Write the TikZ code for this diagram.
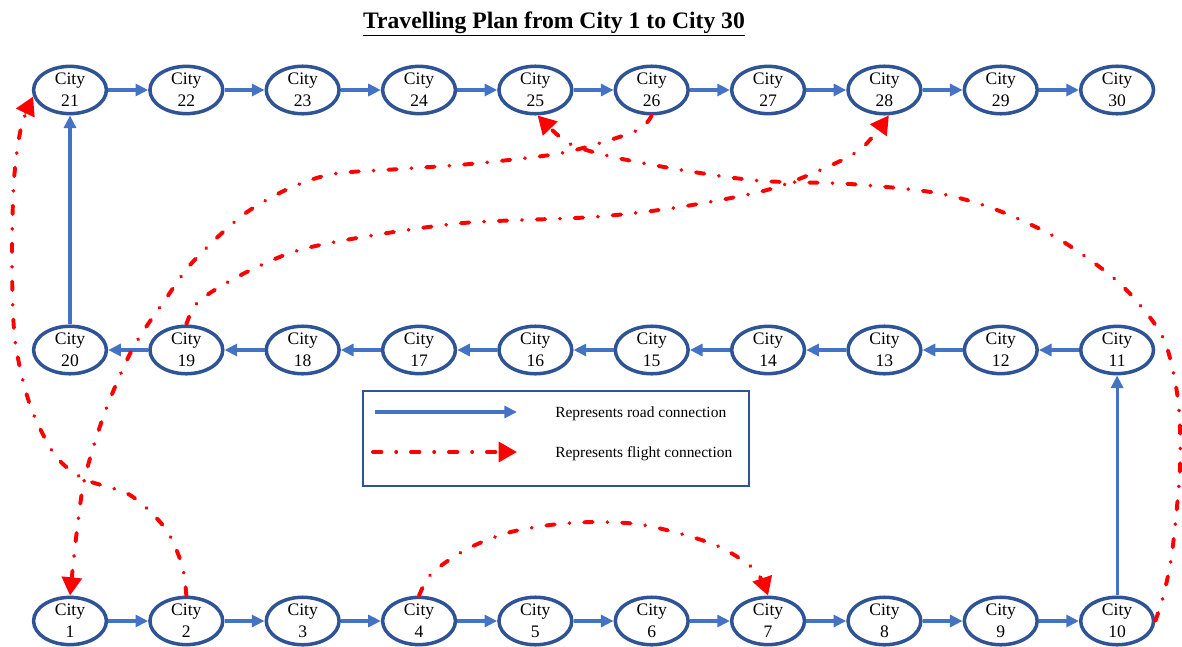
\documentclass[tikz,border=0pt]{standalone}
\usepackage{fontspec}
\setmainfont{Liberation Serif}
\usetikzlibrary{arrows.meta,positioning,shapes.geometric}
\definecolor{citynavy}{RGB}{47,84,150}
\definecolor{roadblue}{RGB}{68,114,196}
\definecolor{flightred}{RGB}{255,0,0}
\tikzset{
 city/.style={ellipse,draw=citynavy,line width=2.5pt,minimum width=1.82cm,minimum height=1.17cm,inner sep=0pt,align=center,font=\fontsize{12.5}{15.5}\selectfont},
 road/.style={-{Triangle[length=9pt,width=8.5pt]},line width=2.3pt,draw=roadblue},
 flight/.style={-{Triangle[length=13pt,width=14pt]},line width=2.8pt,draw=flightred,fill=none,line cap=round,dash pattern=on 6pt off 10.5pt on 0.01pt off 10.5pt},
 keybox/.style={rectangle,draw=citynavy,line width=1.6pt,minimum width=9.65cm,minimum height=2.37cm},
 keytext/.style={anchor=base west,inner sep=0pt,font=\fontsize{11}{13}\selectfont}}
\begin{document}
\begin{tikzpicture}[x=0.025cm,y=-0.025cm,node distance=1.0cm]
\useasboundingbox (0,0) rectangle (1182,646);
\node[font=\fontsize{16.8}{18}\selectfont\bfseries] (title) at (554,24) {\underline{Travelling Plan from City 1 to City 30}};
\node[city] (c1) at (70,621) {City\\1};
\node[city,right=of c1] (c2) {City\\2}; \node[city,right=of c2] (c3) {City\\3}; \node[city,right=of c3] (c4) {City\\4};
\node[city,right=of c4] (c5) {City\\5}; \node[city,right=of c5] (c6) {City\\6}; \node[city,right=of c6] (c7) {City\\7};
\node[city,right=of c7] (c8) {City\\8}; \node[city,right=of c8] (c9) {City\\9}; \node[city,right=of c9] (c10) {City\\10};
\node[city] (c20) at (70,350) {City\\20};
\node[city,right=of c20] (c19) {City\\19}; \node[city,right=of c19] (c18) {City\\18}; \node[city,right=of c18] (c17) {City\\17};
\node[city,right=of c17] (c16) {City\\16}; \node[city,right=of c16] (c15) {City\\15}; \node[city,right=of c15] (c14) {City\\14};
\node[city,right=of c14] (c13) {City\\13}; \node[city,right=of c13] (c12) {City\\12}; \node[city,right=of c12] (c11) {City\\11};
\node[city] (c21) at (70,90) {City\\21};
\node[city,right=of c21] (c22) {City\\22}; \node[city,right=of c22] (c23) {City\\23}; \node[city,right=of c23] (c24) {City\\24};
\node[city,right=of c24] (c25) {City\\25}; \node[city,right=of c25] (c26) {City\\26}; \node[city,right=of c26] (c27) {City\\27};
\node[city,right=of c27] (c28) {City\\28}; \node[city,right=of c28] (c29) {City\\29}; \node[city,right=of c29] (c30) {City\\30};
\draw[road] (c1)--(c2); \draw[road] (c2)--(c3); \draw[road] (c3)--(c4); \draw[road] (c4)--(c5); \draw[road] (c5)--(c6);
\draw[road] (c6)--(c7); \draw[road] (c7)--(c8); \draw[road] (c8)--(c9); \draw[road] (c9)--(c10); \draw[road] (c10)--(c11);
\draw[road] (c11)--(c12); \draw[road] (c12)--(c13); \draw[road] (c13)--(c14); \draw[road] (c14)--(c15); \draw[road] (c15)--(c16);
\draw[road] (c16)--(c17); \draw[road] (c17)--(c18); \draw[road] (c18)--(c19); \draw[road] (c19)--(c20); \draw[road] (c20)--(c21);
\draw[road] (c21)--(c22); \draw[road] (c22)--(c23); \draw[road] (c23)--(c24); \draw[road] (c24)--(c25); \draw[road] (c25)--(c26);
\draw[road] (c26)--(c27); \draw[road] (c27)--(c28); \draw[road] (c28)--(c29); \draw[road] (c29)--(c30);
\draw[flight] plot[smooth] coordinates {(c2.north) (182,565) (165,528) (130,495) (84,479) (55,455) (30,405) (15,340) (12,260) (14,180) (21,128) (c21.190)};
\draw[flight] plot[smooth] coordinates {(c26.south) (638,130) (590,146) (550,155) (470,164) (400,169) (333,174) (290,188) (250,210) (222,233) (190,265) (167,297) (133,348) (105,412) (85,477) (77,530) (c1.north)};
\draw[flight] plot[smooth] coordinates {(c19.north) (198,302) (237,277) (293,252) (357,238) (463,223) (593,217) (680,207) (767,190) (825,168) (862,148) (c28.-80)};
\draw[flight] plot[smooth] coordinates {(c10.east) (1163,597) (1172,553) (1180,467) (1178,400) (1165,342) (1140,305) (1110,275) (1057,238) (997,210) (937,193) (850,184) (763,181) (700,173) (637,162) (593,152) (565,141) (c25.-85)};
\draw[flight] plot[smooth] coordinates {(c4.north) (432,573) (467,549) (507,533) (550,525) (593,522) (637,524) (678,533) (720,547) (755,570) (c7.north)};
\node[keybox] (key) at (556,438.5) {};
\coordinate (roadfrom) at (375,412); \coordinate (roadto) at (517,412);
\coordinate (flightfrom) at (373,452); \coordinate (flightto) at (517,452);
\draw[road] (roadfrom)--(roadto); \draw[flight] (flightfrom)--(flightto);
\node[keytext] (roadtext) at (555,417) {Represents road connection};
\node[keytext] (flighttext) at (555,457) {Represents flight connection};
\end{tikzpicture}
\end{document}
